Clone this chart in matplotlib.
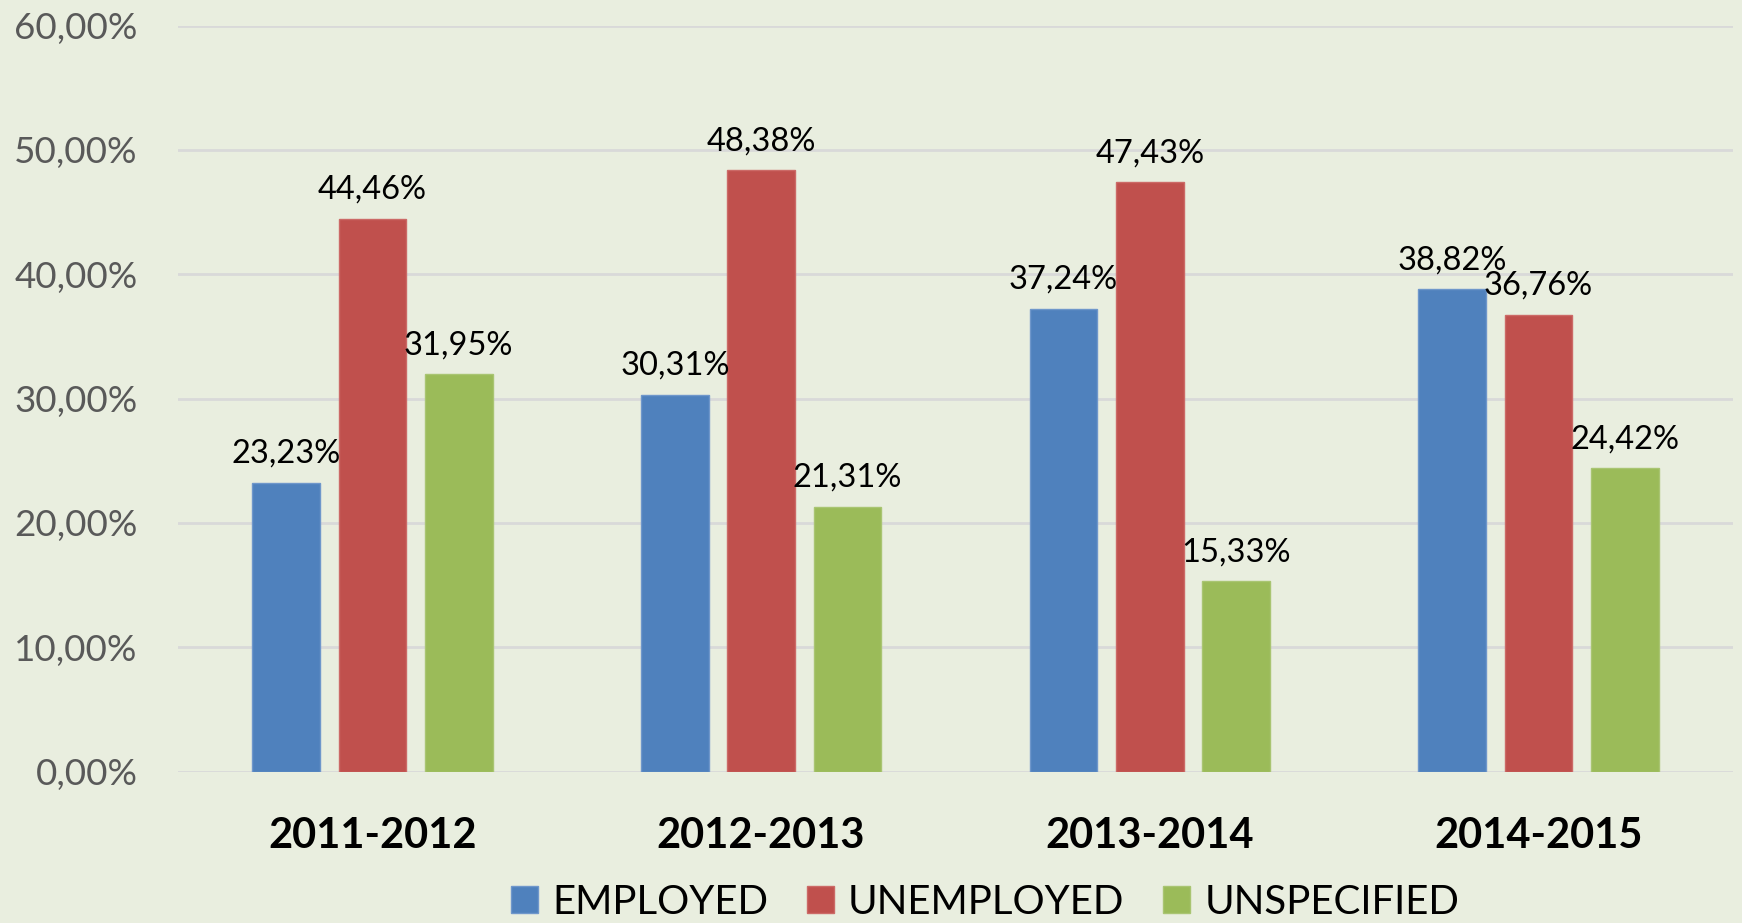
import matplotlib.pyplot as plt
import numpy as np
from matplotlib.ticker import FuncFormatter

years = ['2011-2012', '2012-2013', '2013-2014', '2014-2015']
series = ['EMPLOYED', 'UNEMPLOYED', 'UNSPECIFIED']
employed = [23.23, 30.31, 37.24, 38.82]
unemployed = [44.46, 48.38, 47.43, 36.76]
unspecified = [31.95, 21.31, 15.33, 24.42]
y_ticks = [0, 10, 20, 30, 40, 50, 60]

colors = ['#4F81BD', '#C0504D', '#9BBB59']
edges = ['#6F97CB', '#CC6A67', '#A9C572']
bg = '#E9EEDF'

plt.rcParams['font.family'] = ['Lato', 'DejaVu Sans']

fig = plt.figure(figsize=(17.42, 9.23), dpi=100, facecolor=bg)
ax = fig.add_axes([0.1022, 0.164, 0.8926, 0.8082], facecolor=bg)

x = np.arange(len(years))
width = 0.174
step = 0.222
for k, (vals, name) in enumerate(zip([employed, unemployed, unspecified], series)):
    pos = x + (k - 1) * step
    bars = ax.bar(pos, vals, width, color=colors[k], edgecolor=edges[k],
                  linewidth=1, label=name, zorder=3)
    for b, v in zip(bars, vals):
        ax.annotate('{:.2f}%'.format(v).replace('.', ','),
                    (b.get_x() + b.get_width() / 2, v),
                    xytext=(0, 10), textcoords='offset points',
                    ha='center', va='bottom', fontsize=23.5, color='black',
                    zorder=4)

ax.set_xlim(-0.5, 3.5)
ax.set_ylim(0, 60)
ax.set_yticks(y_ticks)
ax.yaxis.set_major_formatter(FuncFormatter(lambda v, p: '{:.2f}%'.format(v).replace('.', ',')))
ax.grid(axis='y', color='#D9D9D9', linewidth=2, zorder=0)
ax.set_axisbelow(True)
for s in ax.spines.values():
    s.set_visible(False)

ax.set_xticks(x)
ax.set_xticklabels(years, fontsize=30, fontweight='bold')
ax.tick_params(axis='x', length=0, pad=33)
ax.tick_params(axis='y', length=0, pad=29, labelsize=26.5, labelcolor='#595959')

fig.legend(loc='center', bbox_to_anchor=(985 / 1742, 1 - 902 / 923), ncol=3,
           frameon=False, fontsize=29, handlelength=0.67, handleheight=0.67,
           handletextpad=0.36, columnspacing=0.95, borderpad=0, borderaxespad=0)

fig.savefig('out.png', dpi=100, facecolor=bg)
